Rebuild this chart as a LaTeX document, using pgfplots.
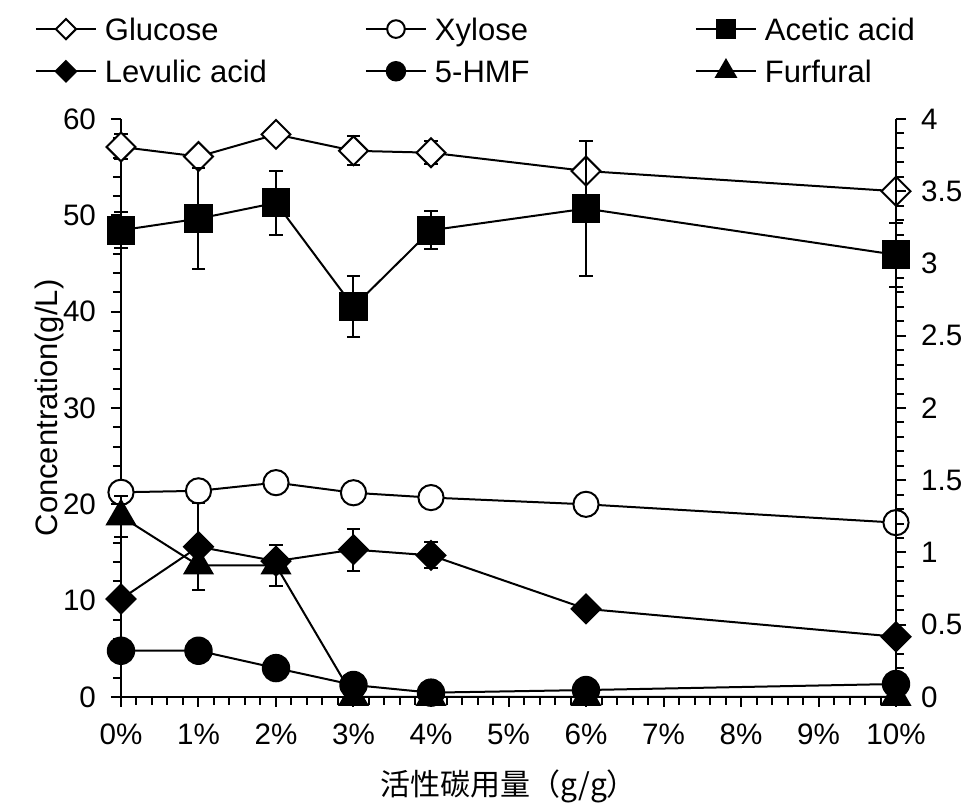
\documentclass[border=0pt]{standalone}
\usepackage{fontspec}
\setmainfont{Liberation Sans}
\newfontfamily\cjk{Noto Sans CJK SC}
\usepackage{pgfplots}
\usepackage{pgfplotstable}
\pgfplotsset{compat=1.18}

% x = dose (%), y = concentration, e = error
\pgfplotstableread{
x  y     e
0  57.1  1.3
1  56.1  0.4
2  58.4  0.1
3  56.7  1.5
4  56.5  1.2
6  54.6  3.1
10 52.5  0.5
}\glucose
\pgfplotstableread{
x  y     e
0  21.25 0.3
1  21.4  0.0
2  22.25 0.1
3  21.2  0.5
4  20.7  0.5
6  20.0  0.5
10 18.1  0.2
}\xylose
\pgfplotstableread{
x  y     e
0  3.23  0.125
1  3.31  0.35
2  3.42  0.22
3  2.70  0.21
4  3.23  0.13
6  3.38  0.47
10 3.06  0.22
}\acetic
\pgfplotstableread{
x  y     e
0  0.678 0.0
1  1.04  0.30
2  0.94  0.03
3  1.02  0.145
4  0.98  0.09
6  0.61  0.0
10 0.417 0.0
}\levulic
\pgfplotstableread{
x  y     e
0  0.32  0.0
1  0.32  0.0
2  0.20  0.0
3  0.083 0.0
4  0.03  0.0
6  0.048 0.0
10 0.09  0.0
}\hmf
\pgfplotstableread{
x  y     e
0  1.25  0.14
1  0.91  0.17
2  0.91  0.14
3  0.0   0.0
4  0.0   0.0
6  0.0   0.0
10 0.0   0.0
}\furfural

\pgfplotsset{
  glu/.style={black, line width=1pt, mark=square*, mark size=5.1pt, mark options={rotate=45, fill=white, solid}},
  xyl/.style={black, line width=1pt, mark=*, mark size=6.3pt, mark options={fill=white, solid}},
  ace/.style={black, line width=1pt, mark=square*, mark size=6.7pt, mark options={fill=black, solid}},
  lev/.style={black, line width=1pt, mark=square*, mark size=5.1pt, mark options={rotate=45, fill=black, solid}},
  hmfs/.style={black, line width=1pt, mark=*, mark size=6.6pt, mark options={fill=black, solid}},
  fur/.style={black, line width=1pt, mark=triangle*, mark size=8pt, mark options={fill=black, solid}},
  errb/.style={error bars/.cd, y dir=both, y explicit,
     error bar style={line width=1pt, black},
     error mark options={rotate=90, black, line width=1pt, mark size=3.3pt}},
  common/.style={
    scale only axis, width=387.5pt, height=289pt,
    at={(0,0)}, anchor=south west,
    xmin=0, xmax=10, clip=false,
    tick align=outside,
    major tick length=5pt, minor tick length=4pt,
    axis line style={line width=1.2pt, -},
    every tick/.style={black, line width=1pt},
    tick label style={font=\fontsize{14.8}{17}\selectfont},
    /pgf/number format/assume math mode=true,
    legend image code/.code={\draw[mark repeat=2, mark phase=2, every mark/.append style={scale=0.7}] plot coordinates {(0pt,0pt) (15pt,0pt) (30pt,0pt)};},
  },
}

\begin{document}
\begin{tikzpicture}
\useasboundingbox (-60.5pt,-55pt) rectangle (422.5pt,348.5pt);
\begin{axis}[common,
  axis x line*=bottom, axis y line*=left,
  ymin=0, ymax=60, ytick={0,10,20,30,40,50,60}, minor y tick num=4,
  xtick={0,1,2,3,4,5,6,7,8,9,10}, minor x tick num=4,
  xticklabel={\pgfmathprintnumber{\tick}\%},
  xticklabel style={yshift=-5pt},
  yticklabel style={xshift=-4pt},
  xlabel={\cjk 活性碳用量（g/g）},
  ylabel={Concentration(g/L)},
  every axis x label/.style={at={(axis description cs:0.5,-0.170)}, anchor=base, font=\fontsize{15}{18}\selectfont},
  every axis y label/.style={at={(axis description cs:-0.0813,0.5)}, rotate=90, anchor=base, font=\fontsize{15.5}{18}\selectfont},
]
\addplot[glu, errb] table[x=x, y=y, y error=e] {\glucose};
\addplot[xyl, errb] table[x=x, y=y, y error=e] {\xylose};
\end{axis}
\begin{axis}[common,
  axis y line*=right, axis x line=none,
  ymin=0, ymax=4, ytick={0,0.5,1,1.5,2,2.5,3,3.5,4}, minor y tick num=4,
  yticklabel style={xshift=4pt},
  legend columns=3,
  legend style={draw=none, fill=none, at={(axis description cs:-0.111,1.180)}, anchor=north west,
    inner sep=0pt, outer sep=0pt, row sep=7pt,
    /tikz/every odd column/.append style={column sep=4pt},
    font=\fontsize{15.5}{18}\selectfont, nodes={inner sep=0pt}},
]
\addlegendimage{glu}
\addlegendentry{\makebox[130pt][l]{\strut Glucose}}
\addlegendimage{xyl}
\addlegendentry{\makebox[130pt][l]{\strut Xylose}}
\addplot[ace, errb] table[x=x, y=y, y error=e] {\acetic};
\addlegendentry{\makebox[130pt][l]{\strut Acetic acid}}
\addplot[lev, errb] table[x=x, y=y, y error=e] {\levulic};
\addlegendentry{\makebox[130pt][l]{\strut Levulic acid}}
\addplot[hmfs, errb] table[x=x, y=y, y error=e] {\hmf};
\addlegendentry{\makebox[130pt][l]{\strut 5-HMF}}
\addplot[fur, errb] table[x=x, y=y, y error=e] {\furfural};
\addlegendentry{\makebox[130pt][l]{\strut Furfural}}
\end{axis}
\end{tikzpicture}
\end{document}
